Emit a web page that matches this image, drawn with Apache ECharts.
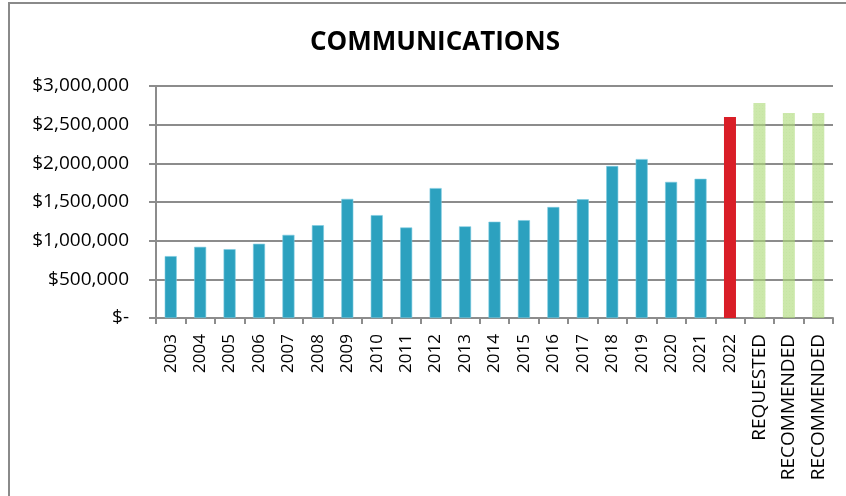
<!DOCTYPE html>
<html>
<head>
<meta charset="utf-8">
<style>
  html, body { margin: 0; padding: 0; background: #ffffff; }
  #chart { width: 846px; height: 496px; }
</style>
<script src="https://cdn.jsdelivr.net/npm/echarts@6/dist/echarts.min.js"></script>
</head>
<body>
<div id="chart"></div>
<script>
// Budget history for the communications line item
const categories = ['2003', '2004', '2005', '2006', '2007', '2008', '2009', '2010', '2011', '2012',
  '2013', '2014', '2015', '2016', '2017', '2018', '2019', '2020', '2021', '2022',
  'REQUESTED', 'RECOMMENDED', 'RECOMMENDED'];

// Prior years, 2003 through 2021
const pastYears = [800000, 920000, 890000, 960000, 1075000, 1200000, 1540000, 1330000, 1170000, 1680000,
  1185000, 1245000, 1265000, 1435000, 1535000, 1965000, 2055000, 1760000, 1800000];

// Current year
const currentYear = [2600000];

// Requested and recommended amounts
const proposed = [2780000, 2650000, 2650000];

const yMax = 3000000;
const yStep = 500000;

const blank = n => Array(n).fill('-');
const pastData = pastYears.concat(blank(categories.length - pastYears.length));
const currentData = blank(pastYears.length).concat(currentYear, blank(proposed.length));
const proposedData = blank(pastYears.length + currentYear.length).concat(proposed);

const fontFamily = '"Open Sans", "Liberation Sans", sans-serif';
const gridGray = '#8c8c8c';

function money(v) {
  if (v === 0) return '$-';
  return '$' + v.toLocaleString('en-US');
}

// Year labels use the plain style; word labels get a slightly larger size
function categoryLabel(name) {
  return /^\d+$/.test(name) ? name : '{word|' + name + '}';
}

const chart = echarts.init(document.getElementById('chart'), null, { renderer: 'canvas' });

chart.setOption({
  animation: false,
  backgroundColor: '#ffffff',
  title: {
    text: 'COMMUNICATIONS',
    left: 430,
    textAlign: 'center',
    top: 25,
    textStyle: { fontFamily, fontWeight: 'bold', fontSize: 26, color: '#000000' }
  },
  graphic: [{
    type: 'rect',
    silent: true,
    shape: { x: 9, y: 3, width: 900, height: 600 },
    style: { fill: 'none', stroke: '#8a8a8a', lineWidth: 2 }
  }],
  grid: { left: 156, right: 13, top: 86, bottom: 178, containLabel: false },
  xAxis: {
    type: 'category',
    data: categories,
    boundaryGap: true,
    axisLine: { show: true, lineStyle: { color: gridGray, width: 2 } },
    axisTick: { show: true, alignWithLabel: false, length: 6, lineStyle: { color: gridGray, width: 2 } },
    axisLabel: {
      interval: 0,
      rotate: 90,
      margin: 16,
      fontFamily,
      fontSize: 17,
      color: '#000000',
      formatter: categoryLabel,
      rich: {
        word: { fontFamily, fontSize: 19, color: '#000000' }
      }
    }
  },
  yAxis: {
    type: 'value',
    min: 0,
    max: yMax,
    interval: yStep,
    axisLine: { show: true, lineStyle: { color: gridGray, width: 2 } },
    axisTick: { show: true, length: 7, lineStyle: { color: gridGray, width: 2 } },
    splitLine: { show: true, lineStyle: { color: gridGray, width: 2 } },
    axisLabel: {
      margin: 27,
      fontFamily,
      fontSize: 19,
      color: '#000000',
      formatter: money
    }
  },
  series: [
    {
      name: 'Prior years',
      type: 'bar',
      stack: 'budget',
      barWidth: 12,
      data: pastData,
      itemStyle: { color: '#2ca1bf', borderColor: '#7ccbe0', borderWidth: 0.6 }
    },
    {
      name: 'Current year',
      type: 'bar',
      stack: 'budget',
      barWidth: 12,
      data: currentData,
      itemStyle: { color: '#d91e27' }
    },
    {
      name: 'Proposed',
      type: 'bar',
      stack: 'budget',
      barWidth: 13,
      data: proposedData,
      itemStyle: {
        color: 'rgba(172, 218, 120, 0.62)',
        decal: {
          symbol: 'rect',
          symbolSize: 0.6,
          dashArrayX: [1, 2],
          dashArrayY: [1, 2],
          color: 'rgba(150, 200, 100, 0.35)'
        }
      }
    }
  ]
});
</script>
</body>
</html>
